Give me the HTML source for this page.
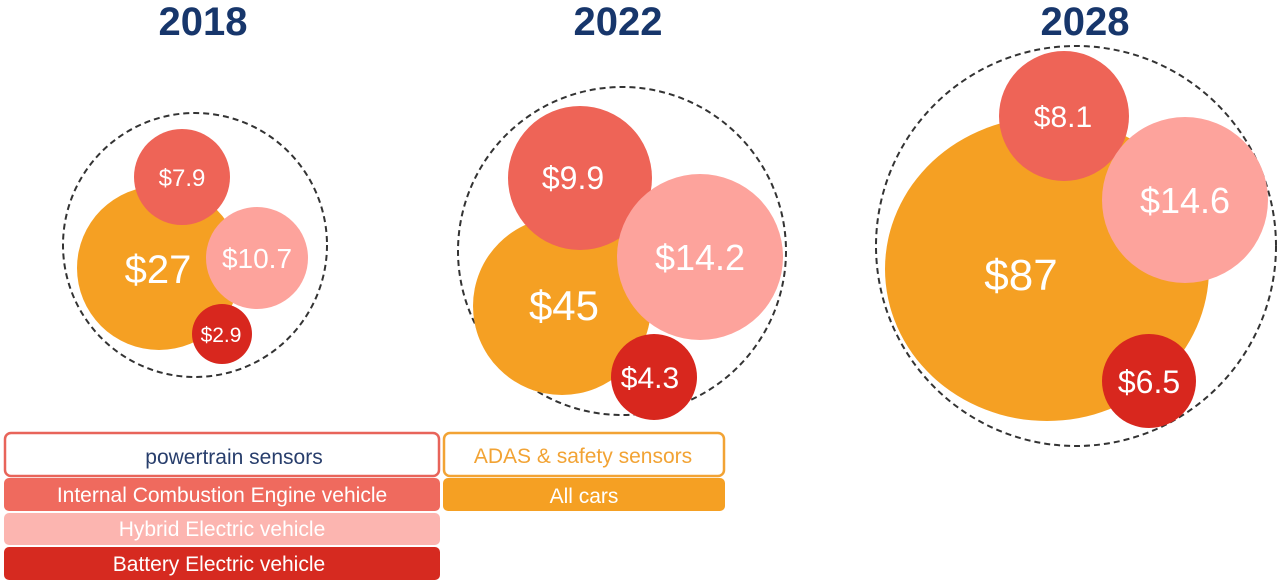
<!DOCTYPE html>
<html><head><meta charset="utf-8"><style>
html,body{margin:0;padding:0;background:#fff;width:1280px;height:586px;overflow:hidden}
svg{display:block}
text{font-family:"Liberation Sans",sans-serif}
</style></head><body>
<svg width="1280" height="586" viewBox="0 0 1280 586" xmlns="http://www.w3.org/2000/svg">
<g font-weight="bold" fill="#17366b" font-size="40" text-anchor="middle">
<text x="203" y="35">2018</text>
<text x="618" y="35">2022</text>
<text x="1085" y="35">2028</text>
</g>
<g fill="none" stroke="#333" stroke-width="2" stroke-dasharray="6,4">
<circle cx="195" cy="245" r="132"/>
<circle cx="622" cy="251" r="164"/>
<circle cx="1076" cy="246" r="200"/>
</g>
<g fill="#fff" text-anchor="middle">
<!-- 2018 -->
<circle cx="159" cy="268" r="82" fill="#f5a023"/>
<circle cx="182" cy="177" r="48" fill="#ee6457"/>
<circle cx="257" cy="258" r="51" fill="#fda39c"/>
<circle cx="222" cy="334" r="30" fill="#d8271e"/>
<text x="158" y="283" font-size="40">$27</text>
<text x="182" y="186" font-size="24">$7.9</text>
<text x="257" y="268" font-size="28">$10.7</text>
<text x="221" y="342" font-size="21">$2.9</text>
<!-- 2022 -->
<circle cx="562" cy="306" r="89" fill="#f5a023"/>
<circle cx="580" cy="178" r="72" fill="#ee6457"/>
<circle cx="700" cy="257" r="83" fill="#fda39c"/>
<circle cx="654" cy="377" r="43" fill="#d8271e"/>
<text x="564" y="320" font-size="42">$45</text>
<text x="573" y="189" font-size="32">$9.9</text>
<text x="700" y="270" font-size="36">$14.2</text>
<text x="650" y="388" font-size="30">$4.3</text>
<!-- 2028 -->
<ellipse cx="1047" cy="269" rx="162" ry="152" fill="#f5a023"/>
<circle cx="1064" cy="116" r="65" fill="#ee6457"/>
<circle cx="1185" cy="200" r="83" fill="#fda39c"/>
<circle cx="1149" cy="381" r="47" fill="#d8271e"/>
<text x="1021" y="290" font-size="44">$87</text>
<text x="1063" y="127" font-size="30">$8.1</text>
<text x="1185" y="213" font-size="36">$14.6</text>
<text x="1149" y="393" font-size="32">$6.5</text>
</g>
<!-- legend -->
<rect x="5" y="433" width="434" height="43" rx="6" fill="#fff" stroke="#e8645a" stroke-width="2.5"/>
<rect x="4" y="478" width="436" height="33" rx="5" fill="#ef6a5e"/>
<rect x="4" y="513" width="436" height="32" rx="5" fill="#fcb5b0"/>
<rect x="4" y="547" width="436" height="33" rx="5" fill="#d62a20"/>
<rect x="444" y="433" width="280" height="43" rx="6" fill="#fff" stroke="#f2a334" stroke-width="2.5"/>
<rect x="443" y="478" width="282" height="33" rx="5" fill="#f5a023"/>
<g text-anchor="middle" font-size="21">
<text x="234" y="464" fill="#283e6c">powertrain sensors</text>
<text x="222" y="502" fill="#fff">Internal Combustion Engine vehicle</text>
<text x="222" y="536" fill="#fff">Hybrid Electric vehicle</text>
<text x="219" y="571" fill="#fff">Battery Electric vehicle</text>
<text x="583" y="463" fill="#f2a334">ADAS &amp; safety sensors</text>
<text x="584" y="503" fill="#fff">All cars</text>
</g>
</svg>
</body></html>
